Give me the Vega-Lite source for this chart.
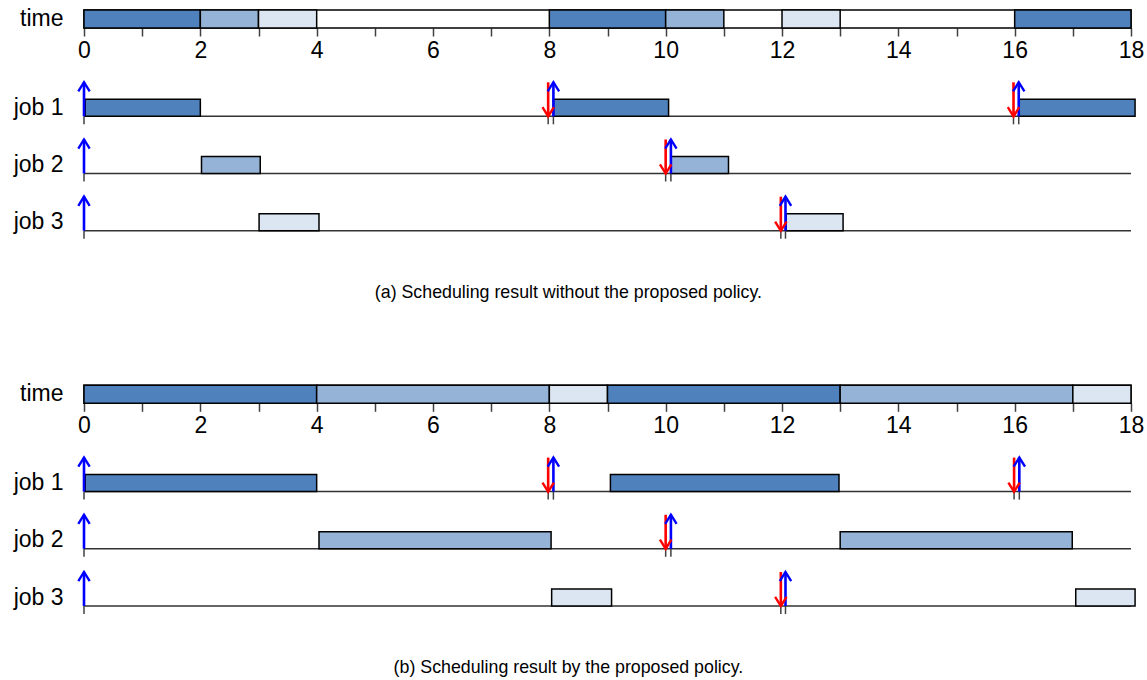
{
  "$schema": "https://vega.github.io/schema/vega-lite/v6.json",
  "background": "white",
  "padding": {"left": 5, "top": 7, "right": 5, "bottom": 2},
  "config": {
    "view": {"stroke": null},
    "font": "Liberation Sans"
  },
  "datasets": {
    "slots": [
      {"panel": "a", "job": "job 1", "start": 0, "end": 2},
      {"panel": "a", "job": "job 2", "start": 2, "end": 3},
      {"panel": "a", "job": "job 3", "start": 3, "end": 4},
      {"panel": "a", "job": "job 1", "start": 8, "end": 10},
      {"panel": "a", "job": "job 2", "start": 10, "end": 11},
      {"panel": "a", "job": "job 3", "start": 12, "end": 13},
      {"panel": "a", "job": "job 1", "start": 16, "end": 18},
      {"panel": "b", "job": "job 1", "start": 0, "end": 4},
      {"panel": "b", "job": "job 2", "start": 4, "end": 8},
      {"panel": "b", "job": "job 3", "start": 8, "end": 9},
      {"panel": "b", "job": "job 1", "start": 9, "end": 13},
      {"panel": "b", "job": "job 2", "start": 13, "end": 17},
      {"panel": "b", "job": "job 3", "start": 17, "end": 18}
    ],
    "runs": [
      {"panel": "a", "job": "job 1", "start": 0.02, "end": 2.0},
      {"panel": "a", "job": "job 1", "start": 8.07, "end": 10.05},
      {"panel": "a", "job": "job 1", "start": 16.07, "end": 18.07},
      {"panel": "a", "job": "job 2", "start": 2.02, "end": 3.03},
      {"panel": "a", "job": "job 2", "start": 10.09, "end": 11.08},
      {"panel": "a", "job": "job 3", "start": 3.01, "end": 4.04},
      {"panel": "a", "job": "job 3", "start": 12.07, "end": 13.05},
      {"panel": "b", "job": "job 1", "start": 0.02, "end": 4.0},
      {"panel": "b", "job": "job 1", "start": 9.05, "end": 12.98},
      {"panel": "b", "job": "job 2", "start": 4.04, "end": 8.03},
      {"panel": "b", "job": "job 2", "start": 13.0, "end": 16.99},
      {"panel": "b", "job": "job 3", "start": 8.04, "end": 9.07},
      {"panel": "b", "job": "job 3", "start": 17.05, "end": 18.07}
    ],
    "events": [
      {"panel": "a", "job": "job 1", "kind": "release", "t": 0},
      {"panel": "a", "job": "job 1", "kind": "deadline", "t": 7.98},
      {"panel": "a", "job": "job 1", "kind": "release", "t": 8.07},
      {"panel": "a", "job": "job 1", "kind": "deadline", "t": 15.98},
      {"panel": "a", "job": "job 1", "kind": "release", "t": 16.07},
      {"panel": "a", "job": "job 2", "kind": "release", "t": 0},
      {"panel": "a", "job": "job 2", "kind": "deadline", "t": 10.0},
      {"panel": "a", "job": "job 2", "kind": "release", "t": 10.09},
      {"panel": "a", "job": "job 3", "kind": "release", "t": 0},
      {"panel": "a", "job": "job 3", "kind": "deadline", "t": 11.98},
      {"panel": "a", "job": "job 3", "kind": "release", "t": 12.06},
      {"panel": "b", "job": "job 1", "kind": "release", "t": 0},
      {"panel": "b", "job": "job 1", "kind": "deadline", "t": 7.98},
      {"panel": "b", "job": "job 1", "kind": "release", "t": 8.07},
      {"panel": "b", "job": "job 1", "kind": "deadline", "t": 15.99},
      {"panel": "b", "job": "job 1", "kind": "release", "t": 16.08},
      {"panel": "b", "job": "job 2", "kind": "release", "t": 0},
      {"panel": "b", "job": "job 2", "kind": "deadline", "t": 10.0},
      {"panel": "b", "job": "job 2", "kind": "release", "t": 10.09},
      {"panel": "b", "job": "job 3", "kind": "release", "t": 0},
      {"panel": "b", "job": "job 3", "kind": "deadline", "t": 11.98},
      {"panel": "b", "job": "job 3", "kind": "release", "t": 12.06}
    ],
    "jobs": [
      {"job": "job 1"},
      {"job": "job 2"},
      {"job": "job 3"}
    ]
  },
  "spacing": 80.3,
  "resolve": {"scale": {"x": "independent", "y": "independent", "color": "independent", "stroke": "independent", "shape": "independent"}},
  "vconcat": [
    {
      "spacing": 15.2,
      "resolve": {"scale": {"x": "independent", "y": "independent"}},
      "title": {"text": "(a) Scheduling result without the proposed policy.", "orient": "bottom", "anchor": "middle", "fontSize": 17.8, "font": "Liberation Sans", "fontWeight": "normal", "color": "black", "offset": 33, "dx": -6},
      "vconcat": [
        {
          "width": 1047,
          "height": 18,
          "layer": [
            {
              "data": {"values": [{}]},
              "mark": {"type": "bar", "fill": "white", "stroke": "black", "strokeWidth": 1.5},
              "encoding": {
                "x": {"datum": 0, "type": "quantitative", "scale": {"domain": [0, 18], "nice": false, "zero": false},
                  "axis": {"values": [0,1,2,3,4,5,6,7,8,9,10,11,12,13,14,15,16,17,18], "format": "d", "labelExpr": "datum.value % 2 === 0 ? datum.label : ''", "tickSize": 8, "tickWidth": 1.5, "tickColor": "#404040", "domain": false, "grid": false, "labelFontSize": 23, "labelPadding": 3, "labelColor": "black", "labelFont": "Liberation Sans", "title": null, "labelFlush": false, "labelOverlap": false}},
                "x2": {"datum": 18},
                "y": {"datum": "time", "type": "nominal", "scale": {"paddingInner": 0, "paddingOuter": 0},
                  "axis": {"ticks": false, "tickSize": 0, "domain": false, "labelFontSize": 23, "labelColor": "black", "labelFont": "Liberation Sans", "labelPadding": 21, "minExtent": 79, "title": null}}
              }
            },
            {
              "data": {"name": "slots"},
              "transform": [{"filter": "datum.panel === 'a'"}],
              "mark": {"type": "bar", "stroke": "black", "strokeWidth": 1.5},
              "encoding": {
                "x": {"field": "start", "type": "quantitative"},
                "x2": {"field": "end"},
                "y": {"datum": "time", "type": "nominal"},
                "color": {"field": "job", "type": "nominal", "scale": {"domain": ["job 1", "job 2", "job 3"], "range": ["#4F81BD", "#95B3D7", "#DCE6F2"]}, "legend": null}
              }
            }
          ]
        },
        {
          "width": 1047,
          "height": 171.6,
          "encoding": {
            "y": {"field": "job", "type": "nominal", "scale": {"domain": ["job 1", "job 2", "job 3"], "paddingInner": 0, "paddingOuter": 0},
              "axis": {"ticks": false, "tickSize": 0, "domain": false, "labelFontSize": 23, "labelColor": "black", "labelFont": "Liberation Sans", "labelPadding": 21, "minExtent": 79, "title": null}}
          },
          "layer": [
            {
              "data": {"name": "jobs"},
              "mark": {"type": "rule", "yOffset": 8.5, "stroke": "#333333", "strokeWidth": 1.5},
              "encoding": {
                "x": {"datum": 0, "type": "quantitative", "scale": {"domain": [0, 18], "nice": false, "zero": false}, "axis": null},
                "x2": {"datum": 18}
              }
            },
            {
              "data": {"name": "runs"},
              "transform": [{"filter": "datum.panel === 'a'"}],
              "mark": {"type": "bar", "height": 17, "stroke": "black", "strokeWidth": 1.5},
              "encoding": {
                "x": {"field": "start", "type": "quantitative"},
                "x2": {"field": "end"},
                "color": {"field": "job", "type": "nominal", "scale": {"domain": ["job 1", "job 2", "job 3"], "range": ["#4F81BD", "#95B3D7", "#DCE6F2"]}, "legend": null}
              }
            },
            {
              "data": {"name": "events"},
              "transform": [{"filter": "datum.panel === 'a'"}],
              "mark": {"type": "rule", "yOffset": 8.5, "y2Offset": 16.5, "stroke": "#404040", "strokeWidth": 1.5},
              "encoding": {
                "x": {"field": "t", "type": "quantitative"},
                "y2": {"field": "job"}
              }
            },
            {
              "data": {"name": "events"},
              "transform": [{"filter": "datum.panel === 'a'"}],
              "mark": {"type": "rule", "yOffset": 8.5, "y2Offset": -25.5, "strokeWidth": 2.6},
              "encoding": {
                "x": {"field": "t", "type": "quantitative"},
                "y2": {"field": "job"},
                "stroke": {"field": "kind", "type": "nominal", "scale": {"domain": ["release", "deadline"], "range": ["#0000FF", "#FF0000"]}, "legend": null}
              }
            },
            {
              "data": {"name": "events"},
              "transform": [{"filter": "datum.panel === 'a' && datum.kind === 'release'"}],
              "mark": {"type": "point", "shape": "M-1,0.8L0,-0.8L1,0.8", "size": 130, "filled": false, "strokeWidth": 2.4, "yOffset": -21, "opacity": 1},
              "encoding": {
                "x": {"field": "t", "type": "quantitative"},
                "stroke": {"field": "kind", "type": "nominal", "legend": null}
              }
            },
            {
              "data": {"name": "events"},
              "transform": [{"filter": "datum.panel === 'a' && datum.kind === 'deadline'"}],
              "mark": {"type": "point", "shape": "M-1,-0.8L0,0.8L1,-0.8", "size": 130, "filled": false, "strokeWidth": 2.4, "yOffset": 4, "opacity": 1},
              "encoding": {
                "x": {"field": "t", "type": "quantitative"},
                "stroke": {"field": "kind", "type": "nominal", "legend": null}
              }
            }
          ]
        }
      ]
    },
    {
      "spacing": 15.2,
      "resolve": {"scale": {"x": "independent", "y": "independent"}},
      "title": {"text": "(b) Scheduling result by the proposed policy.", "orient": "bottom", "anchor": "middle", "fontSize": 17.8, "font": "Liberation Sans", "fontWeight": "normal", "color": "black", "offset": 33, "dx": -6},
      "vconcat": [
        {
          "width": 1047,
          "height": 18,
          "layer": [
            {
              "data": {"values": [{}]},
              "mark": {"type": "bar", "fill": "white", "stroke": "black", "strokeWidth": 1.5},
              "encoding": {
                "x": {"datum": 0, "type": "quantitative", "scale": {"domain": [0, 18], "nice": false, "zero": false},
                  "axis": {"values": [0,1,2,3,4,5,6,7,8,9,10,11,12,13,14,15,16,17,18], "format": "d", "labelExpr": "datum.value % 2 === 0 ? datum.label : ''", "tickSize": 8, "tickWidth": 1.5, "tickColor": "#404040", "domain": false, "grid": false, "labelFontSize": 23, "labelPadding": 3, "labelColor": "black", "labelFont": "Liberation Sans", "title": null, "labelFlush": false, "labelOverlap": false}},
                "x2": {"datum": 18},
                "y": {"datum": "time", "type": "nominal", "scale": {"paddingInner": 0, "paddingOuter": 0},
                  "axis": {"ticks": false, "tickSize": 0, "domain": false, "labelFontSize": 23, "labelColor": "black", "labelFont": "Liberation Sans", "labelPadding": 21, "minExtent": 79, "title": null}}
              }
            },
            {
              "data": {"name": "slots"},
              "transform": [{"filter": "datum.panel === 'b'"}],
              "mark": {"type": "bar", "stroke": "black", "strokeWidth": 1.5},
              "encoding": {
                "x": {"field": "start", "type": "quantitative"},
                "x2": {"field": "end"},
                "y": {"datum": "time", "type": "nominal"},
                "color": {"field": "job", "type": "nominal", "scale": {"domain": ["job 1", "job 2", "job 3"], "range": ["#4F81BD", "#95B3D7", "#DCE6F2"]}, "legend": null}
              }
            }
          ]
        },
        {
          "width": 1047,
          "height": 171.6,
          "encoding": {
            "y": {"field": "job", "type": "nominal", "scale": {"domain": ["job 1", "job 2", "job 3"], "paddingInner": 0, "paddingOuter": 0},
              "axis": {"ticks": false, "tickSize": 0, "domain": false, "labelFontSize": 23, "labelColor": "black", "labelFont": "Liberation Sans", "labelPadding": 21, "minExtent": 79, "title": null}}
          },
          "layer": [
            {
              "data": {"name": "jobs"},
              "mark": {"type": "rule", "yOffset": 8.5, "stroke": "#333333", "strokeWidth": 1.5},
              "encoding": {
                "x": {"datum": 0, "type": "quantitative", "scale": {"domain": [0, 18], "nice": false, "zero": false}, "axis": null},
                "x2": {"datum": 18}
              }
            },
            {
              "data": {"name": "runs"},
              "transform": [{"filter": "datum.panel === 'b'"}],
              "mark": {"type": "bar", "height": 17, "stroke": "black", "strokeWidth": 1.5},
              "encoding": {
                "x": {"field": "start", "type": "quantitative"},
                "x2": {"field": "end"},
                "color": {"field": "job", "type": "nominal", "scale": {"domain": ["job 1", "job 2", "job 3"], "range": ["#4F81BD", "#95B3D7", "#DCE6F2"]}, "legend": null}
              }
            },
            {
              "data": {"name": "events"},
              "transform": [{"filter": "datum.panel === 'b'"}],
              "mark": {"type": "rule", "yOffset": 8.5, "y2Offset": 16.5, "stroke": "#404040", "strokeWidth": 1.5},
              "encoding": {
                "x": {"field": "t", "type": "quantitative"},
                "y2": {"field": "job"}
              }
            },
            {
              "data": {"name": "events"},
              "transform": [{"filter": "datum.panel === 'b'"}],
              "mark": {"type": "rule", "yOffset": 8.5, "y2Offset": -25.5, "strokeWidth": 2.6},
              "encoding": {
                "x": {"field": "t", "type": "quantitative"},
                "y2": {"field": "job"},
                "stroke": {"field": "kind", "type": "nominal", "scale": {"domain": ["release", "deadline"], "range": ["#0000FF", "#FF0000"]}, "legend": null}
              }
            },
            {
              "data": {"name": "events"},
              "transform": [{"filter": "datum.panel === 'b' && datum.kind === 'release'"}],
              "mark": {"type": "point", "shape": "M-1,0.8L0,-0.8L1,0.8", "size": 130, "filled": false, "strokeWidth": 2.4, "yOffset": -21, "opacity": 1},
              "encoding": {
                "x": {"field": "t", "type": "quantitative"},
                "stroke": {"field": "kind", "type": "nominal", "legend": null}
              }
            },
            {
              "data": {"name": "events"},
              "transform": [{"filter": "datum.panel === 'b' && datum.kind === 'deadline'"}],
              "mark": {"type": "point", "shape": "M-1,-0.8L0,0.8L1,-0.8", "size": 130, "filled": false, "strokeWidth": 2.4, "yOffset": 4, "opacity": 1},
              "encoding": {
                "x": {"field": "t", "type": "quantitative"},
                "stroke": {"field": "kind", "type": "nominal", "legend": null}
              }
            }
          ]
        }
      ]
    }
  ]
}
